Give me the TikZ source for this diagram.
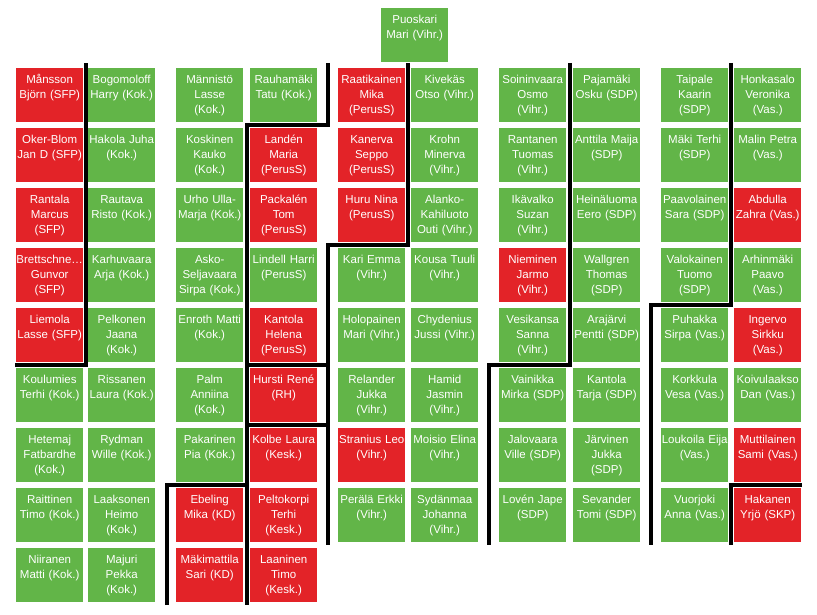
\documentclass[tikz,border=0pt]{standalone}
\usepackage{fontspec}
\setmainfont{Liberation Sans}
\definecolor{mpgreen}{RGB}{98,181,72}
\definecolor{mpred}{RGB}{227,35,40}

\begin{document}
\begin{tikzpicture}
  [x=1pt,y=-1pt,
    every node/.style={anchor=north west,inner xsep=0pt,inner ysep=4.5pt,
      text width=67pt,align=center,text height=10.5pt,text depth=34.5pt,
      text=white,font=\fontsize{11.5}{15}\selectfont},
    gbox/.style={fill=mpgreen},
    rbox/.style={fill=mpred},
    border/.style={line width=4pt},
]
  \useasboundingbox (0,0) rectangle (817,615);

  \node[gbox] (puoskari) at (381,8) {Puoskari\\Mari (Vihr.)};

  % first pair
  \node[rbox] (mansson) at (16,68) {Månsson\\Björn (SFP)};
  \node[rbox] (okerblom) at (16,128) {Oker-Blom\\Jan D (SFP)};
  \node[rbox] (rantala) at (16,188) {Rantala\\Marcus\\(SFP)};
  \node[rbox] (brettschneider) at (16,248) {Brettschne…\\Gunvor\\(SFP)};
  \node[rbox] (liemola) at (16,308) {Liemola\\Lasse (SFP)};
  \node[gbox] (koulumies) at (16,368) {Koulumies\\Terhi (Kok.)};
  \node[gbox] (hetemaj) at (16,428) {Hetemaj\\Fatbardhe\\(Kok.)};
  \node[gbox] (raittinen) at (16,488) {Raittinen\\Timo (Kok.)};
  \node[gbox] (niiranen) at (16,548) {Niiranen\\Matti (Kok.)};

  \node[gbox] (bogomoloff) at (88,68) {Bogomoloff\\Harry (Kok.)};
  \node[gbox] (hakola) at (88,128) {Hakola Juha\\(Kok.)};
  \node[gbox] (rautava) at (88,188) {Rautava\\Risto (Kok.)};
  \node[gbox] (karhuvaara) at (88,248) {Karhuvaara\\Arja (Kok.)};
  \node[gbox] (pelkonen) at (88,308) {Pelkonen\\Jaana\\(Kok.)};
  \node[gbox] (rissanen) at (88,368) {Rissanen\\Laura (Kok.)};
  \node[gbox] (rydman) at (88,428) {Rydman\\Wille (Kok.)};
  \node[gbox] (laaksonen) at (88,488) {Laaksonen\\Heimo\\(Kok.)};
  \node[gbox] (majuri) at (88,548) {Majuri\\Pekka\\(Kok.)};

  % second pair
  \node[gbox] (mannisto) at (176,68) {Männistö\\Lasse\\(Kok.)};
  \node[gbox] (koskinen) at (176,128) {Koskinen\\Kauko\\(Kok.)};
  \node[gbox] (urho) at (176,188) {Urho Ulla-\\Marja (Kok.)};
  \node[gbox] (askoseljavaara) at (176,248) {Asko-\\Seljavaara\\Sirpa (Kok.)};
  \node[gbox] (enroth) at (176,308) {Enroth Matti\\(Kok.)};
  \node[gbox] (palm) at (176,368) {Palm\\Anniina\\(Kok.)};
  \node[gbox] (pakarinen) at (176,428) {Pakarinen\\Pia (Kok.)};
  \node[rbox] (ebeling) at (176,488) {Ebeling\\Mika (KD)};
  \node[rbox] (makimattila) at (176,548) {Mäkimattila\\Sari (KD)};

  \node[gbox] (rauhamaki) at (250,68) {Rauhamäki\\Tatu (Kok.)};
  \node[rbox] (landen) at (250,128) {Landén\\Maria\\(PerusS)};
  \node[rbox] (packalen) at (250,188) {Packalén\\Tom\\(PerusS)};
  \node[gbox] (lindell) at (250,248) {Lindell Harri\\(PerusS)};
  \node[rbox] (kantolah) at (250,308) {Kantola\\Helena\\(PerusS)};
  \node[rbox] (hursti) at (250,368) {Hursti René\\(RH)};
  \node[rbox] (kolbe) at (250,428) {Kolbe Laura\\(Kesk.)};
  \node[rbox] (peltokorpi) at (250,488) {Peltokorpi\\Terhi\\(Kesk.)};
  \node[rbox] (laaninen) at (250,548) {Laaninen\\Timo\\(Kesk.)};

  % third pair
  \node[rbox] (raatikainen) at (338,68) {Raatikainen\\Mika\\(PerusS)};
  \node[rbox] (kanerva) at (338,128) {Kanerva\\Seppo\\(PerusS)};
  \node[rbox] (huru) at (338,188) {Huru Nina\\(PerusS)};
  \node[gbox] (kari) at (338,248) {Kari Emma\\(Vihr.)};
  \node[gbox] (holopainen) at (338,308) {Holopainen\\Mari (Vihr.)};
  \node[gbox] (relander) at (338,368) {Relander\\Jukka\\(Vihr.)};
  \node[rbox] (stranius) at (338,428) {Stranius Leo\\(Vihr.)};
  \node[gbox] (perala) at (338,488) {Perälä Erkki\\(Vihr.)};

  \node[gbox] (kivekas) at (411,68) {Kivekäs\\Otso (Vihr.)};
  \node[gbox] (krohn) at (411,128) {Krohn\\Minerva\\(Vihr.)};
  \node[gbox] (alanko) at (411,188) {Alanko-\\Kahiluoto\\Outi (Vihr.)};
  \node[gbox] (kousa) at (411,248) {Kousa Tuuli\\(Vihr.)};
  \node[gbox] (chydenius) at (411,308) {Chydenius\\Jussi (Vihr.)};
  \node[gbox] (hamid) at (411,368) {Hamid\\Jasmin\\(Vihr.)};
  \node[gbox] (moisio) at (411,428) {Moisio Elina\\(Vihr.)};
  \node[gbox] (sydanmaa) at (411,488) {Sydänmaa\\Johanna\\(Vihr.)};

  % fourth pair
  \node[gbox] (soininvaara) at (499,68) {Soininvaara\\Osmo\\(Vihr.)};
  \node[gbox] (rantanen) at (499,128) {Rantanen\\Tuomas\\(Vihr.)};
  \node[gbox] (ikavalko) at (499,188) {Ikävalko\\Suzan\\(Vihr.)};
  \node[rbox] (nieminen) at (499,248) {Nieminen\\Jarmo\\(Vihr.)};
  \node[gbox] (vesikansa) at (499,308) {Vesikansa\\Sanna\\(Vihr.)};
  \node[gbox] (vainikka) at (499,368) {Vainikka\\Mirka (SDP)};
  \node[gbox] (jalovaara) at (499,428) {Jalovaara\\Ville (SDP)};
  \node[gbox] (loven) at (499,488) {Lovén Jape\\(SDP)};

  \node[gbox] (pajamaki) at (573,68) {Pajamäki\\Osku (SDP)};
  \node[gbox] (anttila) at (573,128) {Anttila Maija\\(SDP)};
  \node[gbox] (heinaluoma) at (573,188) {Heinäluoma\\Eero (SDP)};
  \node[gbox] (wallgren) at (573,248) {Wallgren\\Thomas\\(SDP)};
  \node[gbox] (arajarvi) at (573,308) {Arajärvi\\Pentti (SDP)};
  \node[gbox] (kantolat) at (573,368) {Kantola\\Tarja (SDP)};
  \node[gbox] (jarvinen) at (573,428) {Järvinen\\Jukka\\(SDP)};
  \node[gbox] (sevander) at (573,488) {Sevander\\Tomi (SDP)};

  % fifth pair
  \node[gbox] (taipale) at (661,68) {Taipale\\Kaarin\\(SDP)};
  \node[gbox] (maki) at (661,128) {Mäki Terhi\\(SDP)};
  \node[gbox] (paavolainen) at (661,188) {Paavolainen\\Sara (SDP)};
  \node[gbox] (valokainen) at (661,248) {Valokainen\\Tuomo\\(SDP)};
  \node[gbox] (puhakka) at (661,308) {Puhakka\\Sirpa (Vas.)};
  \node[gbox] (korkkula) at (661,368) {Korkkula\\Vesa (Vas.)};
  \node[gbox] (loukoila) at (661,428) {Loukoila Eija\\(Vas.)};
  \node[gbox] (vuorjoki) at (661,488) {Vuorjoki\\Anna (Vas.)};

  \node[gbox] (honkasalo) at (734,68) {Honkasalo\\Veronika\\(Vas.)};
  \node[gbox] (malin) at (734,128) {Malin Petra\\(Vas.)};
  \node[rbox] (abdulla) at (734,188) {Abdulla\\Zahra (Vas.)};
  \node[gbox] (arhinmaki) at (734,248) {Arhinmäki\\Paavo\\(Vas.)};
  \node[rbox] (ingervo) at (734,308) {Ingervo\\Sirkku\\(Vas.)};
  \node[gbox] (koivulaakso) at (734,368) {Koivulaakso\\Dan (Vas.)};
  \node[rbox] (muttilainen) at (734,428) {Muttilainen\\Sami (Vas.)};
  \node[rbox] (hakanen) at (734,488) {Hakanen\\Yrjö (SKP)};

  % party borders
  \draw[border] (15,365) -- (85.5,365) -- (85.5,63);
  \draw[border] (327.5,63) -- (327.5,125) -- (246.5,125) -- (246.5,605);
  \draw[border] (246.5,365) -- (327.5,365);
  \draw[border] (246.5,425) -- (327.5,425);
  \draw[border] (167,605) -- (167,485) -- (246.5,485);
  \draw[border] (408,63) -- (408,245) -- (327.5,245) -- (327.5,545);
  \draw[border] (569.5,63) -- (569.5,365) -- (488.5,365) -- (488.5,545);
  \draw[border] (731,63) -- (731,305) -- (650.5,305) -- (650.5,545);
  \draw[border] (802,485) -- (731,485) -- (731,545);
\end{tikzpicture}
\end{document}
